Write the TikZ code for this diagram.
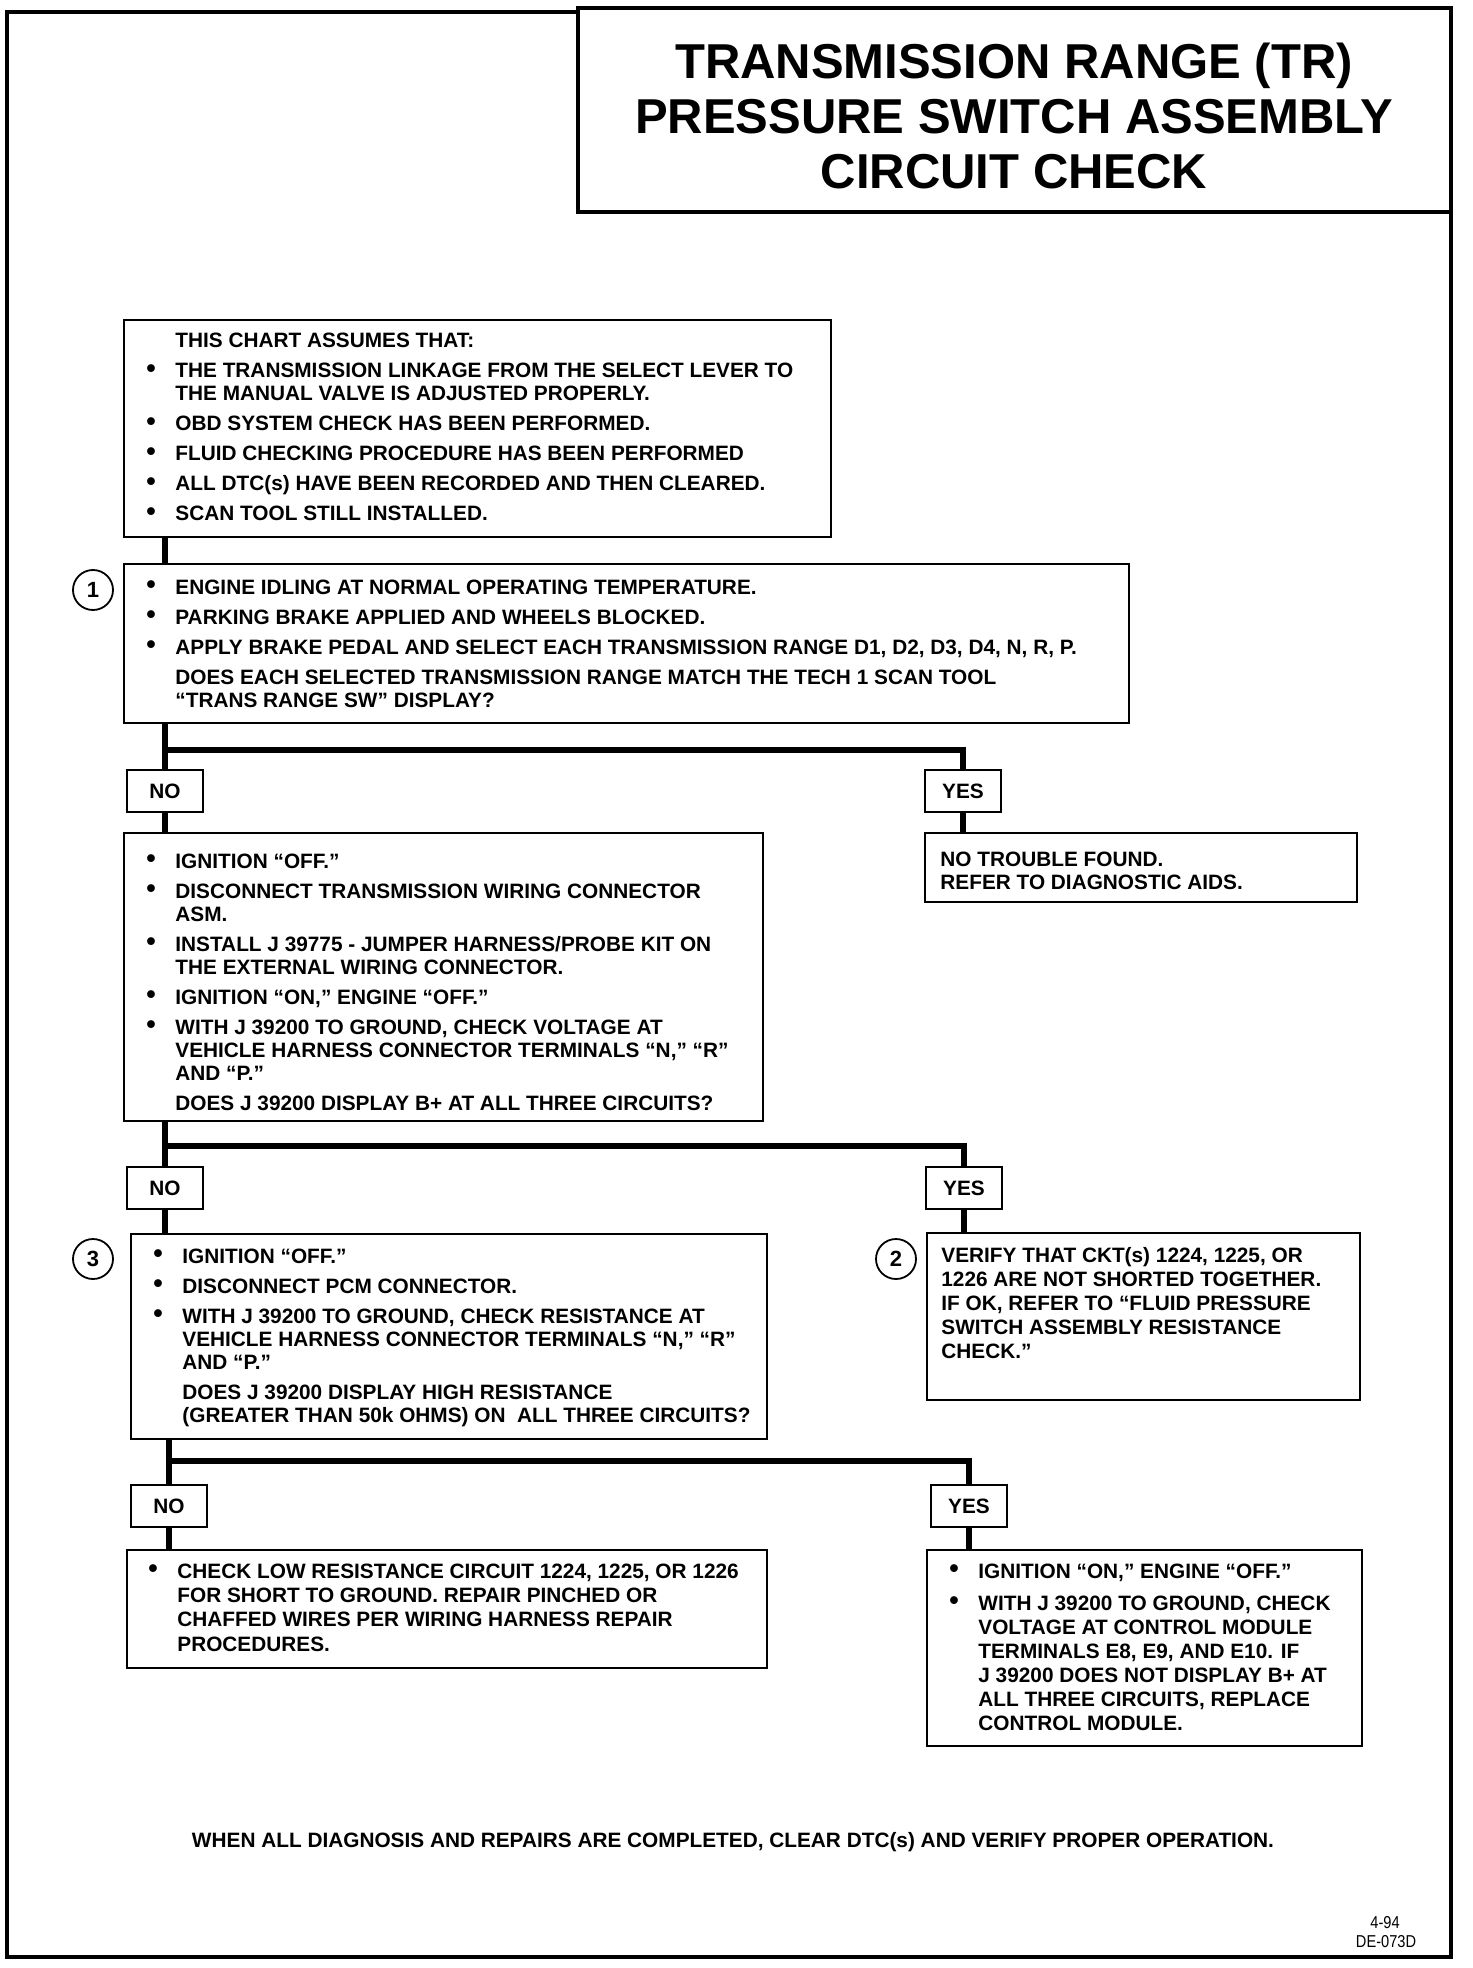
\documentclass[tikz,border=0pt]{standalone}
\usepackage{fontspec}
\setmainfont{Liberation Sans}
\usetikzlibrary{fit,calc}
\newcommand\bodyf{\fontsize{10.4}{11.5}\selectfont\bfseries}
\newcommand\itm{\noindent\llap{\raisebox{0.1pt}{\scalebox{1.3}{\textbullet}}\hspace{9.8pt}}}
\tikzset{
  x=0.5pt, y=-0.5pt,
  box/.style={draw, line width=1.35pt, inner sep=0pt},
  lbl/.style={draw, line width=1.35pt, inner sep=0pt, minimum width=38pt, minimum height=21pt, font=\bodyf},
  txt/.style={inner sep=0pt, anchor=base west, font=\bodyf},
  num/.style={draw, circle, line width=0.9pt, minimum size=20pt, inner sep=0pt, font=\fontsize{11}{12}\selectfont\bfseries},
  conn/.style={line width=2.8pt},
  frame/.style={line width=2pt}
}
\begin{document}
\begin{tikzpicture}
\useasboundingbox (0,0) rectangle (1472,1968);
% outer frame and title
\draw[frame] (578,12) -- (7,12) -- (7,1957) -- (1451,1957) -- (1451,212);
\node[box, line width=2pt, fit={(578,8) (1451,212)}] (title) {};
\node[inner sep=0pt, align=center, font=\fontsize{24.5}{27.5}\selectfont\bfseries] (titletxt) at (1014,116)
  {TRANSMISSION RANGE (TR)\\PRESSURE SWITCH ASSEMBLY\\CIRCUIT CHECK};

% Box A
\node[box, fit={(124,320) (831,537)}] (A) {};
\node[txt] (At) at (175,348) {\parbox[t]{400pt}{\raggedright
THIS CHART ASSUMES THAT:\\[3.5pt]
\itm THE TRANSMISSION LINKAGE FROM THE SELECT LEVER TO\\
THE MANUAL VALVE IS ADJUSTED PROPERLY.\\[3.5pt]
\itm OBD SYSTEM CHECK HAS BEEN PERFORMED.\\[3.5pt]
\itm FLUID CHECKING PROCEDURE HAS BEEN PERFORMED\\[3.5pt]
\itm ALL DTC(s) HAVE BEEN RECORDED AND THEN CLEARED.\\[3.5pt]
\itm SCAN TOOL STILL INSTALLED.}};

% Box 1
\node[box, fit={(124,564) (1129,723)}] (B1) {};
\node[num] (c1) at (93,590) {1};
\node[txt] (B1t) at (175,594) {\parbox[t]{500pt}{\raggedright
\itm ENGINE IDLING AT NORMAL OPERATING TEMPERATURE.\\[3.5pt]
\itm PARKING BRAKE APPLIED AND WHEELS BLOCKED.\\[3.5pt]
\itm APPLY BRAKE PEDAL AND SELECT EACH TRANSMISSION RANGE D1, D2, D3, D4, N, R, P.\\[3.5pt]
DOES EACH SELECTED TRANSMISSION RANGE MATCH THE TECH 1 SCAN TOOL\\
“TRANS RANGE SW” DISPLAY?}};

% branch 1
\node[lbl] (no1) at (165,791) {NO};
\node[lbl] (yes1) at (963,791) {YES};
\coordinate (j1) at (165,750);
\node[box, fit={(925,833) (1357,902)}] (ntf) {};
\node[txt] (ntft) at (940,866) {\parbox[t]{300pt}{\raggedright
NO TROUBLE FOUND.\\
REFER TO DIAGNOSTIC AIDS.}};

% Box B
\node[box, fit={(124,833) (763,1121)}] (B) {};
\node[txt] (Bt) at (175,868) {\parbox[t]{400pt}{\raggedright
\itm IGNITION “OFF.”\\[3.5pt]
\itm DISCONNECT TRANSMISSION WIRING CONNECTOR\\
ASM.\\[3.5pt]
\itm INSTALL J 39775 - JUMPER HARNESS/PROBE KIT ON\\
THE EXTERNAL WIRING CONNECTOR.\\[3.5pt]
\itm IGNITION “ON,” ENGINE “OFF.”\\[3.5pt]
\itm WITH J 39200 TO GROUND, CHECK VOLTAGE AT\\
VEHICLE HARNESS CONNECTOR TERMINALS “N,” “R”\\
AND “P.”\\[3.5pt]
DOES J 39200 DISPLAY B+ AT ALL THREE CIRCUITS?}};

% branch 2
\node[lbl] (no2) at (165,1188) {NO};
\node[lbl] (yes2) at (964,1188) {YES};
\coordinate (j2) at (165,1146);

% Box 2
\node[box, fit={(927,1233) (1360,1400)}] (V) {};
\node[num] (c2) at (896,1259) {2};
\node[txt] (Vt) at (941,1262) {\parbox[t]{300pt}{\raggedright\baselineskip=12pt
VERIFY THAT CKT(s) 1224, 1225, OR\\
1226 ARE NOT SHORTED TOGETHER.\\
IF OK, REFER TO “FLUID PRESSURE\\
SWITCH ASSEMBLY RESISTANCE\\
CHECK.”}};

% Box 3
\node[box, fit={(131,1234) (767,1439)}] (B3) {};
\node[num] (c3) at (93,1259) {3};
\node[txt] (B3t) at (182,1263) {\parbox[t]{400pt}{\raggedright
\itm IGNITION “OFF.”\\[3.5pt]
\itm DISCONNECT PCM CONNECTOR.\\[3.5pt]
\itm WITH J 39200 TO GROUND, CHECK RESISTANCE AT\\
VEHICLE HARNESS CONNECTOR TERMINALS “N,” “R”\\
AND “P.”\\[3.5pt]
DOES J 39200 DISPLAY HIGH RESISTANCE\\
(GREATER THAN 50k OHMS) ON\ \ ALL THREE CIRCUITS?}};

% branch 3
\node[lbl] (no3) at (169,1506) {NO};
\node[lbl] (yes3) at (969,1506) {YES};
\coordinate (j3) at (169,1461);

% Box C
\node[box, fit={(127,1550) (767,1668)}] (C) {};
\node[txt] (Ct) at (177,1578) {\parbox[t]{400pt}{\raggedright\baselineskip=12.2pt
\itm CHECK LOW RESISTANCE CIRCUIT 1224, 1225, OR 1226\\
FOR SHORT TO GROUND. REPAIR PINCHED OR\\
CHAFFED WIRES PER WIRING HARNESS REPAIR\\
PROCEDURES.}};

% Box D
\node[box, fit={(927,1550) (1362,1746)}] (D) {};
\node[txt] (Dt) at (978,1578) {\parbox[t]{300pt}{\raggedright\baselineskip=12pt
\itm IGNITION “ON,” ENGINE “OFF.”\\[4pt]
\itm WITH J 39200 TO GROUND, CHECK\\
VOLTAGE AT CONTROL MODULE\\
TERMINALS E8, E9, AND E10. IF\\
J 39200 DOES NOT DISPLAY B+ AT\\
ALL THREE CIRCUITS, REPLACE\\
CONTROL MODULE.}};

% connectors
\draw[conn] (no1 |- A.south) -- (no1 |- B1.north);
\draw[conn] (no1 |- B1.south) -- (no1.north);
\draw[conn] (j1) -| (yes1.north);
\draw[conn] (no1.south) -- (no1 |- B.north);
\draw[conn] (yes1.south) -- (yes1 |- ntf.north);

\draw[conn] (no2 |- B.south) -- (no2.north);
\draw[conn] (j2) -| (yes2.north);
\draw[conn] (no2.south) -- (no2 |- B3.north);
\draw[conn] (yes2.south) -- (yes2 |- V.north);

\draw[conn] (no3 |- B3.south) -- (no3.north);
\draw[conn] (j3) -| (yes3.north);
\draw[conn] (no3.south) -- (no3 |- C.north);
\draw[conn] (yes3.south) -- (yes3 |- D.north);

% footer
\node[inner sep=0pt, anchor=base, font=\bodyf] (foot) at (733,1847)
  {WHEN ALL DIAGNOSIS AND REPAIRS ARE COMPLETED, CLEAR DTC(s) AND VERIFY PROPER OPERATION.};
\node[inner sep=0pt, anchor=base, font=\fontsize{8.6}{9}\selectfont] (code1) at (1385,1928) {\scalebox{0.85}[1]{4-94}};
\node[inner sep=0pt, anchor=base, font=\fontsize{8.6}{9}\selectfont] (code2) at (1386,1947) {\scalebox{0.85}[1]{DE-073D}};
\end{tikzpicture}
\end{document}
